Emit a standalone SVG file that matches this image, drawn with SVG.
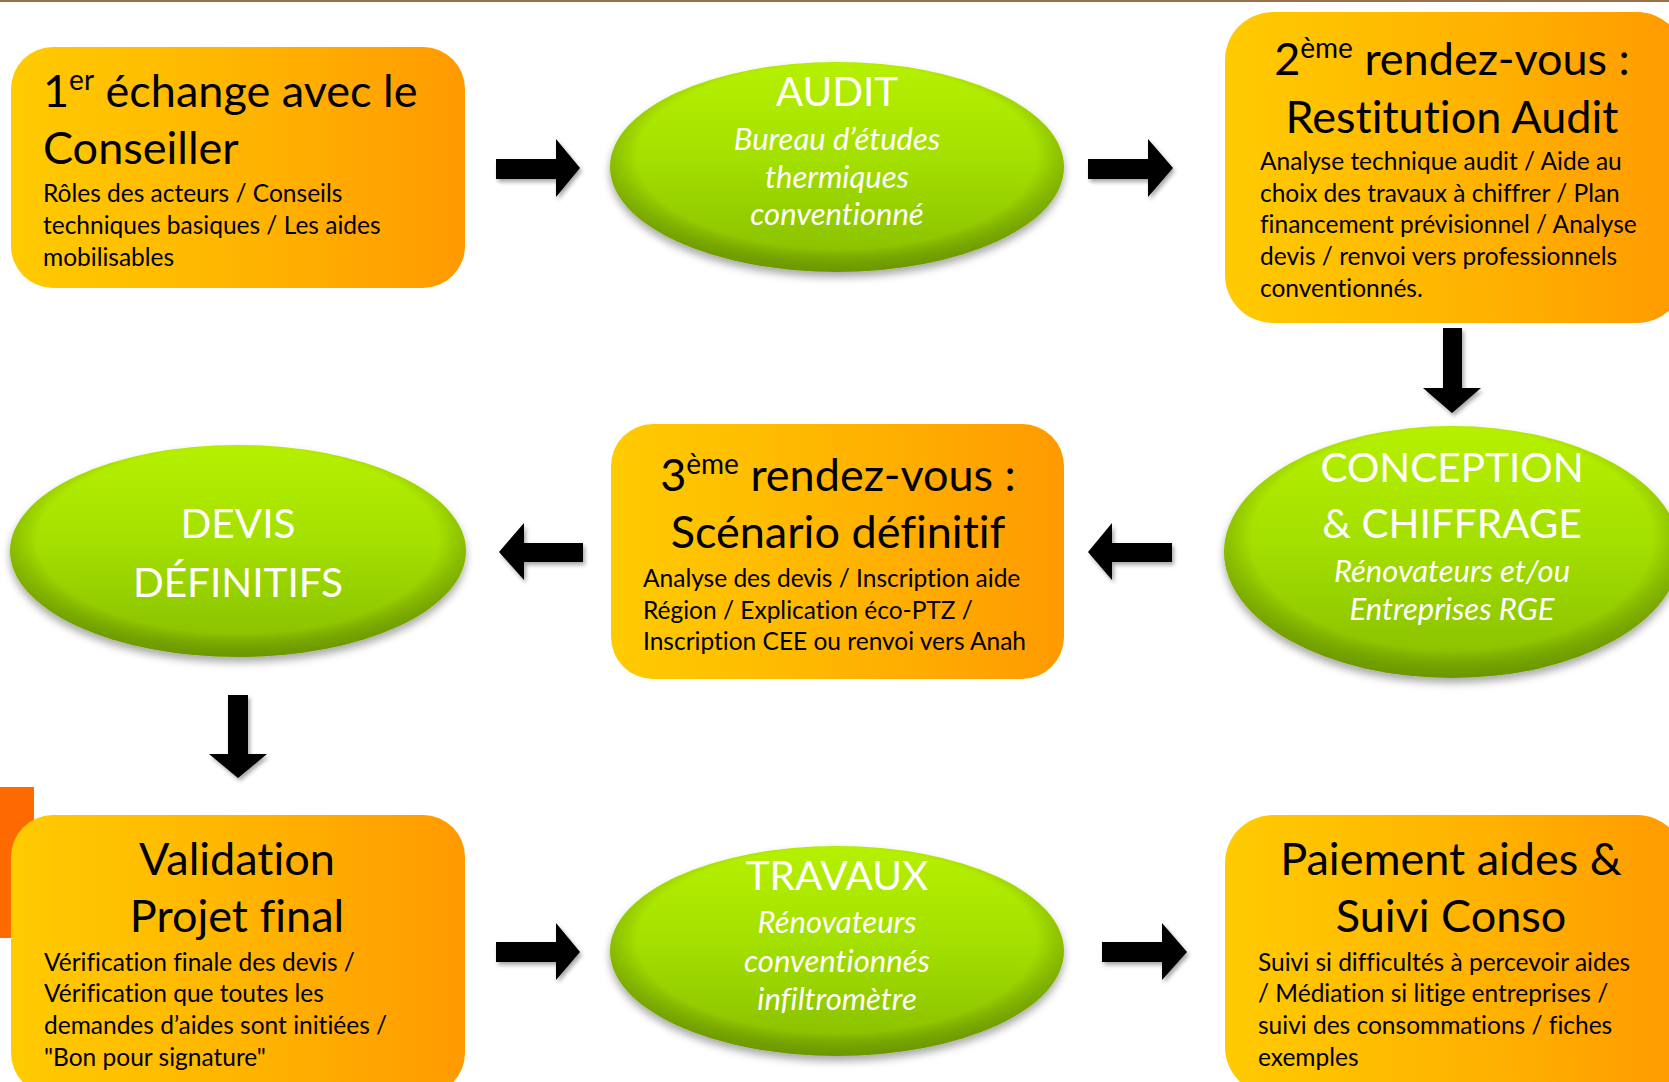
<svg xmlns="http://www.w3.org/2000/svg" width="1669" height="1082" viewBox="0 0 1669 1082">
<defs>
<linearGradient id="gOrange" x1="0" y1="0" x2="1" y2="0">
<stop offset="0" stop-color="#FFCB00"/>
<stop offset="0.55" stop-color="#FFB300"/>
<stop offset="1" stop-color="#FF9A00"/>
</linearGradient>
<linearGradient id="gGreen" x1="0" y1="0" x2="0" y2="1">
<stop offset="0" stop-color="#B6F000"/>
<stop offset="0.45" stop-color="#A4E000"/>
<stop offset="1" stop-color="#86BC00"/>
</linearGradient>
<radialGradient id="gBevel" cx="0.5" cy="0.45" r="0.55">
<stop offset="0.8" stop-color="#000" stop-opacity="0"/>
<stop offset="1" stop-color="#3a5500" stop-opacity="0.35"/>
</radialGradient>
<filter id="shEll" x="-10%" y="-10%" width="120%" height="130%">
<feGaussianBlur in="SourceAlpha" stdDeviation="4"/>
<feOffset dx="0" dy="5" result="b"/>
<feComponentTransfer><feFuncA type="linear" slope="0.35"/></feComponentTransfer>
<feMerge><feMergeNode/><feMergeNode in="SourceGraphic"/></feMerge>
</filter>
<filter id="shArr" x="-20%" y="-20%" width="140%" height="140%">
<feGaussianBlur in="SourceAlpha" stdDeviation="2"/>
<feOffset dx="2" dy="3" result="b"/>
<feComponentTransfer><feFuncA type="linear" slope="0.35"/></feComponentTransfer>
<feMerge><feMergeNode/><feMergeNode in="SourceGraphic"/></feMerge>
</filter>
</defs>
<style>
.box{fill:url(#gOrange);}
.ell{fill:url(#gGreen);}
.bev{fill:url(#gBevel);}
.arr{fill:#000;}
text{font-family:Lato,"Open Sans","DejaVu Sans",sans-serif;font-variant-ligatures:none;font-feature-settings:"liga" 0,"dlig" 0;}
.t{font-size:45px;fill:#000;}
.b{font-size:24.5px;fill:#000;}
.w{font-size:40.5px;fill:#fff;}
.i{font-size:31px;fill:#fff;font-style:italic;}
.c{text-anchor:middle;}
.sup{font-size:28px;}
</style>
<rect x="0" y="0" width="1669" height="1082" fill="#fff"/>
<rect x="0" y="0" width="1669" height="2" fill="#9A7048"/>
<rect x="0" y="787" width="34" height="151" fill="#FF6A00"/>

<g id="n1">
<rect class="box" x="11" y="47" width="454" height="241" rx="42"/>
<text class="t" x="43" y="107">1<tspan class="sup" dy="-17">er</tspan><tspan dy="17"> échange avec le</tspan></text>
<text class="t" x="43" y="164">Conseiller</text>
<text class="b" x="43" y="202">Rôles des acteurs / Conseils</text>
<text class="b" x="43" y="234">techniques basiques / Les aides</text>
<text class="b" x="43" y="266">mobilisables</text>
</g>

<g id="n2">
<g filter="url(#shEll)"><ellipse class="ell" cx="837" cy="167" rx="227" ry="105"/></g>
<ellipse class="bev" cx="837" cy="167" rx="227" ry="105"/>
<text class="w c" x="837" y="106">AUDIT</text>
<text class="i c" x="837" y="150">Bureau d’études</text>
<text class="i c" x="837" y="188">thermiques</text>
<text class="i c" x="837" y="225">conventionné</text>
</g>

<g id="n3">
<rect class="box" x="1225" y="12" width="460" height="311" rx="48"/>
<text class="t c" x="1452" y="75">2<tspan class="sup" dy="-17">ème</tspan><tspan dy="17"> rendez-vous :</tspan></text>
<text class="t c" x="1452" y="133">Restitution Audit</text>
<text class="b" x="1260" y="170">Analyse technique audit / Aide au</text>
<text class="b" x="1260" y="202">choix des travaux à chiffrer / Plan</text>
<text class="b" x="1260" y="233">financement prévisionnel / Analyse</text>
<text class="b" x="1260" y="265">devis / renvoi vers professionnels</text>
<text class="b" x="1260" y="297">conventionnés.</text>
</g>

<g id="n4">
<g filter="url(#shEll)"><ellipse class="ell" cx="1452" cy="552" rx="228" ry="126"/></g>
<ellipse class="bev" cx="1452" cy="552" rx="228" ry="126"/>
<text class="w c" x="1452" y="482">CONCEPTION</text>
<text class="w c" x="1452" y="538">&amp; CHIFFRAGE</text>
<text class="i c" x="1452" y="582">Rénovateurs et/ou</text>
<text class="i c" x="1452" y="620">Entreprises RGE</text>
</g>

<g id="n5">
<rect class="box" x="611" y="424" width="453" height="255" rx="42"/>
<text class="t c" x="838" y="491">3<tspan class="sup" dy="-17">ème</tspan><tspan dy="17"> rendez-vous :</tspan></text>
<text class="t c" x="838" y="548">Scénario définitif</text>
<text class="b" x="643" y="587">Analyse des devis / Inscription aide</text>
<text class="b" x="643" y="619">Région / Explication éco-PTZ /</text>
<text class="b" x="643" y="650">Inscription CEE ou renvoi vers Anah</text>
</g>

<g id="n6">
<g filter="url(#shEll)"><ellipse class="ell" cx="238" cy="551" rx="228" ry="106"/></g>
<ellipse class="bev" cx="238" cy="551" rx="228" ry="106"/>
<text class="w c" x="238" y="538">DEVIS</text>
<text class="w c" x="238" y="597">DÉFINITIFS</text>
</g>

<g id="n7">
<rect class="box" x="11" y="815" width="454" height="280" rx="42"/>
<text class="t c" x="237" y="875">Validation</text>
<text class="t c" x="237" y="932">Projet final</text>
<text class="b" x="44" y="971">Vérification finale des devis /</text>
<text class="b" x="44" y="1002">Vérification que toutes les</text>
<text class="b" x="44" y="1034">demandes d’aides sont initiées /</text>
<text class="b" x="44" y="1066">"Bon pour signature"</text>
</g>

<g id="n8">
<g filter="url(#shEll)"><ellipse class="ell" cx="837" cy="951" rx="227" ry="105"/></g>
<ellipse class="bev" cx="837" cy="951" rx="227" ry="105"/>
<text class="w c" x="837" y="890">TRAVAUX</text>
<text class="i c" x="837" y="933">Rénovateurs</text>
<text class="i c" x="837" y="972">conventionnés</text>
<text class="i c" x="837" y="1010">infiltromètre</text>
</g>

<g id="n9">
<rect class="box" x="1225" y="815" width="460" height="280" rx="48"/>
<text class="t c" x="1451" y="875">Paiement aides &amp;</text>
<text class="t c" x="1451" y="932">Suivi Conso</text>
<text class="b" x="1258" y="971">Suivi si difficultés à percevoir aides</text>
<text class="b" x="1258" y="1002">/ Médiation si litige entreprises /</text>
<text class="b" x="1258" y="1034">suivi des consommations / fiches</text>
<text class="b" x="1258" y="1066">exemples</text>
</g>

<g id="connectors" filter="url(#shArr)">
<path class="arr" d="M496,159 H556 V139 L580,168 L556,197 V179 H496 Z"/>
<path class="arr" d="M1088,159 H1148 V139 L1173,168 L1148,197 V179 H1088 Z"/>
<path class="arr" d="M1443,328 V388 H1423 L1452,413 L1481,388 H1462 V328 Z"/>
<path class="arr" d="M1172,543 H1112 V523 L1088,552 L1112,580 V562 H1172 Z"/>
<path class="arr" d="M583,543 H524 V523 L499,552 L524,580 V562 H583 Z"/>
<path class="arr" d="M228,695 V754 H209 L238,778 L267,754 H248 V695 Z"/>
<path class="arr" d="M496,942 H556 V923 L580,952 L556,980 V962 H496 Z"/>
<path class="arr" d="M1102,942 H1162 V923 L1187,952 L1162,980 V962 H1102 Z"/>
</g>
</svg>
